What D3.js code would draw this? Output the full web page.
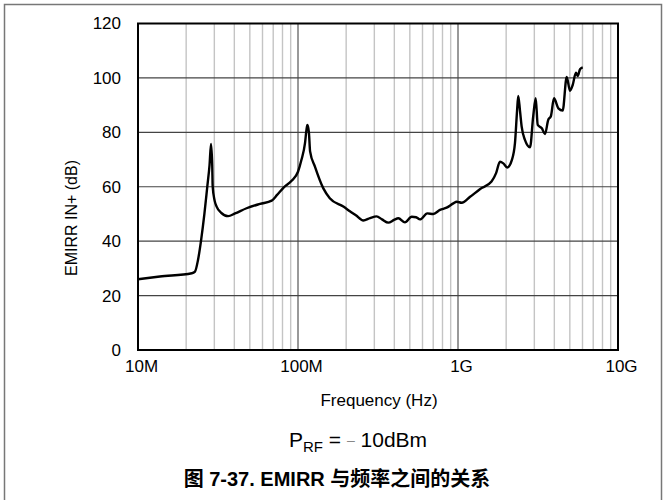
<!DOCTYPE html>
<html><head><meta charset="utf-8">
<script src="https://cdn.jsdelivr.net/npm/d3@7/dist/d3.min.js"></script>
<style>
body{margin:0;background:#fff;}
svg{display:block;font-family:"Liberation Sans",Arial,"Noto Sans CJK SC",sans-serif;}
</style></head><body>
<svg id="c" width="663" height="500"></svg>
<script>
// Data (frequency in Hz, EMIRR in dB)
const freqHz = [1.0e7,1.37e7,2.17e7,2.27e7,2.37e7,2.48e7,2.60e7,2.71e7,2.80e7,2.86e7,2.91e7,2.93e7,3.01e7,3.10e7,3.30e7,3.66e7,4.04e7,4.77e7,5.79e7,6.85e7,7.4e7,8.1e7,9.12e7,1.0e8,1.05e8,1.106e8,1.13e8,1.145e8,1.17e8,1.19e8,1.276e8,1.44e8,1.58e8,1.92e8,2.11e8,2.30e8,2.56e8,2.82e8,3.10e8,3.35e8,3.67e8,3.98e8,4.24e8,4.66e8,5.14e8,5.47e8,5.79e8,6.43e8,7.01e8,7.72e8,8.49e8,9.35e8,9.82e8,1.055e9,1.19e9,1.37e9,1.62e9,1.73e9,1.83e9,1.92e9,2.03e9,2.17e9,2.27e9,2.34e9,2.38e9,2.44e9,2.50e9,2.62e9,2.82e9,2.95e9,3.06e9,3.15e9,3.34e9,3.50e9,3.66e9,3.81e9,3.98e9,4.24e9,4.51e9,4.78e9,5.01e9,5.21e9,5.46e9,5.60e9,5.79e9,6.02e9];
const emirrDb = [26.0,27.0,28.2,28.8,33,40.4,50,60,68,75.7,68,60,55,52.7,50.5,49.2,50.2,52.1,53.7,54.9,57,59.6,62.2,65.5,69.8,76,81,82.7,80,73,67.4,59.4,55.8,52.7,51,49.5,47.6,48.5,49.1,48,46.8,47.8,48.4,46.9,49,48.8,48,50.2,50,51.5,52.3,53.9,54.5,54.1,56.3,59.1,61.9,65,69.2,68.6,67.1,69.8,76,88,93.4,88,82.1,77.2,74.5,85.8,92.5,82.7,81.5,79.4,84.5,86,92.5,88.8,88,100.4,95.3,97.4,101.9,100.7,103.2,103.9];
const xTickValues = [1e7,1e8,1e9,1e10];
const xTickLabels = ["10M","100M","1G","10G"];
const yTickValues = [0,20,40,60,80,100,120];
const xTitle = "Frequency (Hz)";
const yTitle = "EMIRR IN+ (dB)";
const caption = "图 7-37. EMIRR 与频率之间的关系";

const svg = d3.select("#c");
const L=138,R=618,T=23.5,B=350;
const x = d3.scaleLog().domain([1e7,1e10]).range([L,R]);
const y = d3.scaleLinear().domain([0,120]).range([B,T]);

// outer frame
svg.append("rect").attr("x",4.5).attr("y",4.5).attr("width",657).attr("height",520)
  .attr("fill","none").attr("stroke","#777").attr("stroke-width",1.5);

// minor vertical grid
const minors=[];
for(let d=7;d<10;d++) for(let m=2;m<=9;m++) minors.push(m*Math.pow(10,d));
svg.append("g").selectAll("line").data(minors).join("line")
  .attr("x1",d=>x(d)).attr("x2",d=>x(d)).attr("y1",T).attr("y2",B)
  .attr("stroke","#c4c4c4").attr("stroke-width",1.4);
// major vertical grid
svg.append("g").selectAll("line").data([1e8,1e9]).join("line")
  .attr("x1",d=>x(d)).attr("x2",d=>x(d)).attr("y1",T).attr("y2",B)
  .attr("stroke","#555").attr("stroke-width",1.2);
// horizontal grid
svg.append("g").selectAll("line").data(yTickValues.slice(1,-1)).join("line")
  .attr("x1",L).attr("x2",R).attr("y1",d=>y(d)).attr("y2",d=>y(d))
  .attr("stroke","#444").attr("stroke-width",1.1);

// axes (labels only)
const yAxis = d3.axisLeft(y).tickValues(yTickValues).tickSize(0).tickPadding(0);
const gy = svg.append("g").attr("transform",`translate(${L-17},0)`).call(yAxis);
gy.select(".domain").remove();
gy.selectAll("text").attr("font-size",17).attr("fill","#000").attr("font-family","Liberation Sans, Arial, sans-serif");

const xAxis = d3.axisBottom(x).tickValues(xTickValues).tickFormat((d,i)=>xTickLabels[i]).tickSize(0).tickPadding(0);
const gx = svg.append("g").attr("transform",`translate(3,${B+10})`).call(xAxis);
gx.select(".domain").remove();
gx.selectAll("text").attr("font-size",17).attr("fill","#000").attr("font-family","Liberation Sans, Arial, sans-serif");

// plot frame
svg.append("rect").attr("x",L).attr("y",T).attr("width",R-L).attr("height",B-T)
  .attr("fill","none").attr("stroke","#000").attr("stroke-width",2);

// curve
const pts = freqHz.map((f,i)=>[f,emirrDb[i]]);
svg.append("path").datum(pts)
  .attr("d",d3.line().x(d=>x(d[0])).y(d=>y(d[1])).curve(d3.curveMonotoneX))
  .attr("fill","none").attr("stroke","#000").attr("stroke-width",2.4).attr("stroke-linejoin","round");

// titles
svg.append("text").attr("transform","translate(77,218) rotate(-90)").attr("text-anchor","middle")
  .attr("font-size",16).text(yTitle);
svg.append("text").attr("x",379).attr("y",406).attr("text-anchor","middle")
  .attr("font-size",17).text(xTitle);

// P_RF line
const pr = svg.append("text").attr("x",358).attr("y",447).attr("text-anchor","middle").attr("font-size",21);
pr.append("tspan").text("P");
pr.append("tspan").attr("font-size",15).attr("dy",5).text("RF");
pr.append("tspan").attr("dy",-5).text(" =  ");
pr.append("tspan").attr("fill","#888").attr("font-size",14).attr("dy",-2).text("–");
pr.append("tspan").attr("dy",2).text(" 10dBm");

// caption
svg.append("text").attr("x",337).attr("y",486).attr("text-anchor","middle")
  .attr("font-size",20).attr("font-weight","bold")
  .attr("font-family","Liberation Sans, Arial, Noto Sans CJK SC, sans-serif").text(caption);
</script>
</body></html>
